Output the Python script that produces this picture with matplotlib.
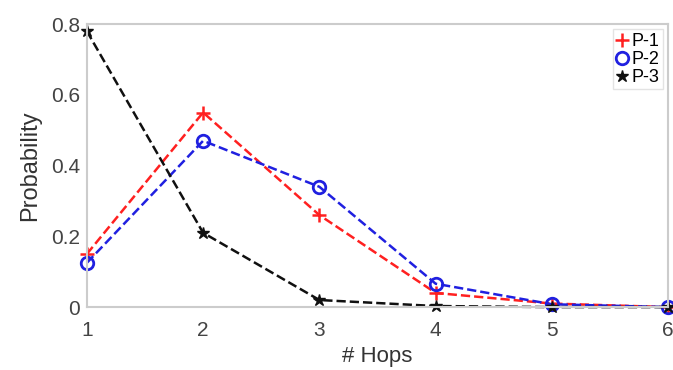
import matplotlib
matplotlib.use("Agg")
import matplotlib.pyplot as plt

plt.rcParams['font.family'] = ['Liberation Sans', 'DejaVu Sans']

hops = [1, 2, 3, 4, 5, 6]
p1 = [0.15, 0.55, 0.26, 0.04, 0.01, 0.0]
p2 = [0.125, 0.47, 0.34, 0.066, 0.008, 0.0]
p3 = [0.78, 0.21, 0.02, 0.003, 0.0, 0.0]
labels = ['P-1', 'P-2', 'P-3']

fig = plt.figure(figsize=(6.73, 3.70), dpi=100)
ax = fig.add_axes([0.129, 0.170, 0.864, 0.765])

ax.plot(hops, p1, '--', color='#ff2020', marker='+', ms=10, mew=1.8, lw=1.8,
        label=labels[0], clip_on=False)
ax.plot(hops, p2, '--', color='#2020e0', marker='o', ms=9, mfc='none', mew=2.0, lw=1.8,
        label=labels[1], clip_on=False)
ax.plot(hops, p3, '--', color='#101010', marker='*', ms=9, lw=1.8,
        label=labels[2], clip_on=False)

ax.set_xlim(1, 6)
ax.set_ylim(0, 0.8)
ax.set_xticks(hops)
ax.set_yticks([0, 0.2, 0.4, 0.6, 0.8])
ax.set_yticklabels(['0', '0.2', '0.4', '0.6', '0.8'])
ax.tick_params(colors='#444444', labelsize=15, length=0)
ax.tick_params(axis='x', pad=10)
ax.tick_params(axis='y', pad=5)
for s in ax.spines.values():
    s.set_color('#cccccc')
    s.set_linewidth(1.5)

ax.set_xlabel('# Hops', fontsize=16, color='#333333', labelpad=4)
ax.set_ylabel('Probability', fontsize=17, color='#333333', labelpad=7)

leg = ax.legend(loc='upper right', fontsize=13, handlelength=0.6, handletextpad=0.2,
                borderpad=0.2, labelspacing=0.05, frameon=True, fancybox=False,
                borderaxespad=0.3)
leg.get_frame().set_edgecolor('#dddddd')
for h in leg.get_lines():
    h.set_linestyle('none')

fig.savefig('out.png', dpi=100)
